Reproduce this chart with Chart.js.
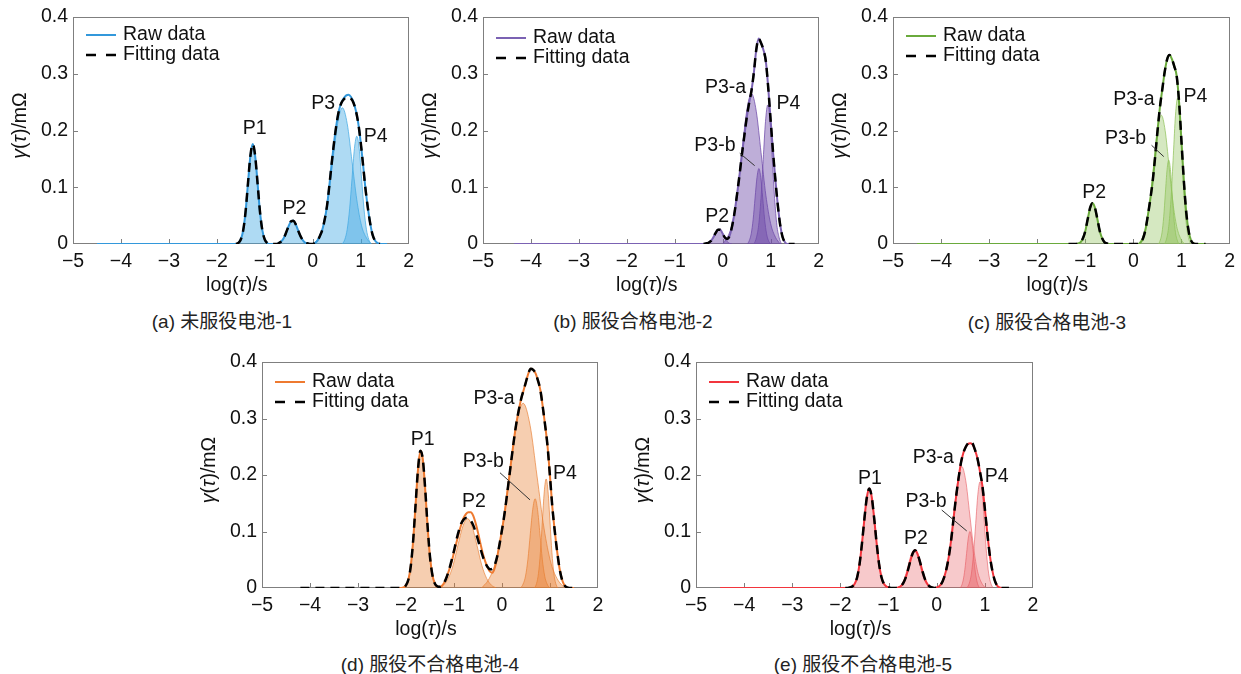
<!DOCTYPE html>
<html>
<head>
<meta charset="utf-8">
<title>DRT peaks</title>
<script src="https://cdn.jsdelivr.net/npm/chart.js@4.4.1/dist/chart.umd.min.js"></script>
<style>
  body { margin: 0; background: #fff; width: 1241px; height: 674px; position: relative; overflow: hidden;
         font-family: "Liberation Sans", "Noto Sans CJK SC", sans-serif; }
  canvas { position: absolute; }
  .cap { position: absolute; font-size: 19px; color: #222; transform: translate(-50%, -50%); white-space: nowrap; }
</style>
</head>
<body>
<canvas id="ca" width="420" height="300" style="left:0;top:0"></canvas>
<canvas id="cb" width="410" height="300" style="left:420px;top:0"></canvas>
<canvas id="cc" width="411" height="300" style="left:830px;top:0"></canvas>
<canvas id="cd" width="420" height="300" style="left:190px;top:345px"></canvas>
<canvas id="ce" width="420" height="300" style="left:630px;top:345px"></canvas>
<div class="cap" style="left:222px;top:319px">(a) 未服役电池-1</div>
<div class="cap" style="left:633px;top:319px">(b) 服役合格电池-2</div>
<div class="cap" style="left:1047px;top:320px">(c) 服役合格电池-3</div>
<div class="cap" style="left:430px;top:662px">(d) 服役不合格电池-4</div>
<div class="cap" style="left:863px;top:662px">(e) 服役不合格电池-5</div>
<script>
// ---- (a) 未服役电池-1 ----
const a_x = [-4.5, -1.6, -1.55, -1.5, -1.45, -1.4, -1.35, -1.3, -1.25, -1.2, -1.15, -1.1, -1.05, -1.0, -0.95,
  -0.9, -0.85, -0.8, -0.75, -0.7, -0.65, -0.6, -0.55, -0.5, -0.45, -0.4, -0.35, -0.3, -0.25, -0.2, -0.15, -0.1, -0.05,
  0, 0.05, 0.1, 0.15, 0.2, 0.25, 0.3, 0.35, 0.4, 0.45, 0.5, 0.55, 0.6, 0.65, 0.7, 0.75, 0.8, 0.85, 0.9, 0.95,
  1.0, 1.05, 1.1, 1.15, 1.2, 1.25, 1.3, 1.35, 1.4, 1.55];
const a_raw = [0, 0, 0.002, 0.008, 0.024, 0.057, 0.107, 0.155, 0.176, 0.155, 0.107, 0.057, 0.024, 0.008, 0.002,
  0, 0, 0, 0, 0.002, 0.005, 0.011, 0.021, 0.032, 0.040, 0.041, 0.034, 0.023, 0.013, 0.006, 0.002, 0.001, 0,
  0, 0.002, 0.006, 0.014, 0.025, 0.043, 0.068, 0.105, 0.145, 0.182, 0.213, 0.236, 0.249, 0.257, 0.262, 0.263, 0.259, 0.250, 0.235, 0.213,
  0.180, 0.140, 0.098, 0.064, 0.036, 0.016, 0.006, 0.002, 0, 0];
const a_fit = [null, 0, 0.002, 0.008, 0.024, 0.057, 0.107, 0.155, 0.176, 0.155, 0.107, 0.057, 0.024, 0.008, 0.002,
  0, 0, 0, 0, 0.002, 0.005, 0.011, 0.021, 0.032, 0.040, 0.041, 0.034, 0.023, 0.013, 0.006, 0.002, 0.001, 0,
  0, 0.002, 0.006, 0.014, 0.025, 0.043, 0.068, 0.105, 0.145, 0.182, 0.213, 0.236, 0.249, 0.255, 0.258, 0.258, 0.256, 0.249, 0.235, 0.213,
  0.180, 0.140, 0.098, 0.064, 0.036, 0.016, 0.006, 0.002, 0, null];
const a_p1_x = [-1.55, -1.5, -1.45, -1.4, -1.35, -1.3, -1.25, -1.2, -1.15, -1.1, -1.05, -1.0, -0.95];
const a_p1_y = [0, 0.008, 0.024, 0.057, 0.107, 0.155, 0.176, 0.155, 0.107, 0.057, 0.024, 0.008, 0];
const a_p2_x = [-0.75, -0.695, -0.64, -0.585, -0.53, -0.475, -0.42, -0.365, -0.31, -0.255, -0.2, -0.145, -0.09];
const a_p2_y = [0, 0.002, 0.006, 0.014, 0.025, 0.037, 0.042, 0.037, 0.025, 0.014, 0.006, 0.002, 0];
const a_p3_x = [0.02, 0.12, 0.22, 0.32, 0.42, 0.52, 0.62, 0.72, 0.82, 0.92, 1.02, 1.12, 1.22];
const a_p3_y = [0, 0.011, 0.032, 0.078, 0.146, 0.212, 0.24, 0.212, 0.146, 0.078, 0.032, 0.011, 0];
const a_p4_x = [0.62, 0.67, 0.72, 0.77, 0.82, 0.87, 0.92, 0.97, 1.02, 1.07, 1.12, 1.17, 1.22];
const a_p4_y = [0, 0.008, 0.026, 0.062, 0.115, 0.168, 0.19, 0.168, 0.115, 0.062, 0.026, 0.008, 0];
const a_lab = ['P1', 'P2', 'P3', 'P4'];
const a_lab_x = [-1.21, -0.383, 0.217, 1.315];
const a_lab_y = [0.203, 0.063, 0.248, 0.189];

// ---- (b) 服役合格电池-2 ----
const b_x = [-4.35, -0.4, -0.35, -0.3, -0.25, -0.2, -0.15, -0.1, -0.05, 0, 0.05, 0.1, 0.15, 0.2, 0.25, 0.3, 0.35, 0.4, 0.45,
  0.5, 0.55, 0.6, 0.65, 0.7, 0.75, 0.8, 0.85, 0.9, 0.95, 1.0, 1.05, 1.1, 1.15, 1.2, 1.25, 1.3, 1.35, 1.5];
const b_raw = [0, 0, 0.001, 0.002, 0.005, 0.011, 0.019, 0.025, 0.025, 0.018, 0.011, 0.009, 0.016, 0.033, 0.057, 0.088, 0.121, 0.157, 0.19,
  0.222, 0.248, 0.27, 0.302, 0.342, 0.362, 0.354, 0.342, 0.322, 0.275, 0.218, 0.162, 0.112, 0.068, 0.033, 0.012, 0.003, 0, 0];
const b_fit = [null, 0, 0.001, 0.002, 0.005, 0.011, 0.019, 0.025, 0.025, 0.018, 0.011, 0.009, 0.016, 0.033, 0.057, 0.088, 0.121, 0.157, 0.19,
  0.222, 0.248, 0.27, 0.302, 0.342, 0.362, 0.354, 0.342, 0.322, 0.275, 0.218, 0.162, 0.112, 0.068, 0.033, 0.012, 0.003, 0, 0];
const b_p2_x = [-0.35, -0.305, -0.26, -0.215, -0.17, -0.125, -0.08, -0.035, 0.01, 0.055, 0.1, 0.145, 0.19];
const b_p2_y = [0, 0.001, 0.004, 0.008, 0.016, 0.023, 0.026, 0.023, 0.016, 0.008, 0.004, 0.001, 0];
const b_p3a_x = [0, 0.1, 0.2, 0.3, 0.4, 0.5, 0.6, 0.7, 0.8, 0.9, 1.0, 1.1, 1.2];
const b_p3a_y = [0, 0.012, 0.036, 0.086, 0.161, 0.234, 0.265, 0.234, 0.161, 0.086, 0.036, 0.012, 0];
const b_p3b_x = [0.515, 0.555, 0.595, 0.635, 0.675, 0.715, 0.755, 0.795, 0.835, 0.875, 0.915, 0.955, 0.995];
const b_p3b_y = [0, 0.006, 0.018, 0.043, 0.081, 0.117, 0.133, 0.117, 0.081, 0.043, 0.018, 0.006, 0];
const b_p4_x = [0.655, 0.703, 0.75, 0.798, 0.845, 0.893, 0.94, 0.988, 1.035, 1.083, 1.13, 1.178, 1.225];
const b_p4_y = [0, 0.011, 0.033, 0.080, 0.149, 0.216, 0.245, 0.216, 0.149, 0.080, 0.033, 0.011, 0];
const b_lab = ['P2', 'P3-a', 'P3-b', 'P4'];
const b_lab_x = [-0.114, 0.058, -0.162, 1.37];
const b_lab_y = [0.048, 0.276, 0.174, 0.248];
const b_lead = [0.356, 0.16, 0.667, 0.138];

// ---- (c) 服役合格电池-3 ----
const c_x = [-4.5, -1.35, -1.2, -1.15, -1.1, -1.05, -1.0, -0.95, -0.9, -0.85, -0.8, -0.75, -0.7, -0.65, -0.6, -0.55, -0.5,
  0.1, 0.15, 0.2, 0.25, 0.3, 0.35, 0.4, 0.45, 0.5, 0.55, 0.6, 0.65, 0.7, 0.75, 0.8, 0.85, 0.9, 0.95, 1.0, 1.05, 1.1, 1.15, 1.2, 1.25, 1.3, 1.5];
const c_raw = [0, 0, 0, 0.001, 0.003, 0.010, 0.023, 0.044, 0.064, 0.072, 0.064, 0.044, 0.023, 0.010, 0.003, 0.001, 0,
  0, 0.003, 0.010, 0.025, 0.05, 0.078, 0.11, 0.152, 0.198, 0.24, 0.272, 0.303, 0.325, 0.333, 0.326, 0.313, 0.296, 0.25, 0.18, 0.11, 0.055, 0.022, 0.006, 0.001, 0, 0];
const c_fit = [null, 0, 0, 0.001, 0.003, 0.010, 0.023, 0.044, 0.064, 0.072, 0.064, 0.044, 0.023, 0.010, 0.003, 0.001, 0,
  0, 0.003, 0.010, 0.025, 0.05, 0.078, 0.11, 0.152, 0.198, 0.24, 0.272, 0.303, 0.325, 0.333, 0.326, 0.313, 0.296, 0.25, 0.18, 0.11, 0.055, 0.022, 0.006, 0.001, 0, 0];
const c_p2_x = [-1.15, -1.1, -1.05, -1.0, -0.95, -0.9, -0.85, -0.8, -0.75, -0.7, -0.65, -0.6, -0.55];
const c_p2_y = [0, 0.003, 0.010, 0.023, 0.044, 0.064, 0.072, 0.064, 0.044, 0.023, 0.010, 0.003, 0];
const c_p3a_x = [0.1, 0.18, 0.26, 0.34, 0.42, 0.5, 0.58, 0.66, 0.74, 0.82, 0.9, 0.98, 1.06];
const c_p3a_y = [0, 0.010, 0.031, 0.074, 0.138, 0.200, 0.227, 0.200, 0.138, 0.074, 0.031, 0.010, 0];
const c_p3b_x = [0.525, 0.56, 0.595, 0.63, 0.665, 0.7, 0.735, 0.77, 0.805, 0.84, 0.875, 0.91, 0.945];
const c_p3b_y = [0, 0.007, 0.020, 0.048, 0.090, 0.131, 0.148, 0.131, 0.090, 0.048, 0.020, 0.007, 0];
const c_p4_x = [0.65, 0.695, 0.74, 0.785, 0.83, 0.875, 0.92, 0.965, 1.01, 1.055, 1.1, 1.145, 1.19];
const c_p4_y = [0, 0.011, 0.035, 0.084, 0.156, 0.227, 0.257, 0.227, 0.156, 0.084, 0.035, 0.011, 0];
const c_lab = ['P2', 'P3-a', 'P3-b', 'P4'];
const c_lab_x = [-0.818, 0.010, -0.162, 1.288];
const c_lab_y = [0.090, 0.254, 0.186, 0.26];
const c_lead = [0.377, 0.174, 0.631, 0.154];

// ---- (d) 服役不合格电池-4 ----
const d_x = [-4.2, -2.15, -2.1, -2.05, -2.0, -1.95, -1.9, -1.85, -1.8, -1.75, -1.7, -1.65, -1.6, -1.55, -1.5, -1.45, -1.4, -1.35,
  -1.3, -1.25, -1.2, -1.15, -1.1, -1.05, -1.0, -0.95, -0.9, -0.85, -0.8, -0.75, -0.7, -0.65, -0.6, -0.55, -0.5, -0.45, -0.4,
  -0.35, -0.3, -0.25, -0.2, -0.15, -0.1, -0.05, 0, 0.05, 0.1, 0.15, 0.2, 0.25, 0.3, 0.35, 0.4, 0.45, 0.5, 0.55, 0.6, 0.65,
  0.7, 0.75, 0.8, 0.85, 0.9, 0.95, 1.0, 1.05, 1.1, 1.15, 1.2, 1.25, 1.3, 1.35, 1.4, 1.5];
const d_raw = [null, 0, 0, 0.001, 0.005, 0.015, 0.039, 0.085, 0.148, 0.21, 0.243, 0.228, 0.175, 0.109, 0.055, 0.023, 0.008, 0.003,
  0.002, 0.004, 0.010, 0.020, 0.032, 0.046, 0.063, 0.080, 0.097, 0.112, 0.124, 0.131, 0.134, 0.134, 0.128, 0.115, 0.098, 0.079, 0.061,
  0.047, 0.036, 0.029, 0.027, 0.036, 0.055, 0.078, 0.103, 0.13, 0.162, 0.196, 0.23, 0.263, 0.292, 0.315, 0.335, 0.35, 0.365, 0.38, 0.388, 0.386,
  0.38, 0.367, 0.35, 0.32, 0.287, 0.25, 0.197, 0.142, 0.1, 0.064, 0.034, 0.015, 0.005, 0.001, 0, 0];
const d_fit = [0, 0, 0, 0.001, 0.005, 0.015, 0.039, 0.085, 0.148, 0.21, 0.243, 0.228, 0.175, 0.109, 0.055, 0.023, 0.008, 0.003,
  0.002, 0.004, 0.010, 0.020, 0.033, 0.049, 0.066, 0.085, 0.101, 0.114, 0.121, 0.124, 0.123, 0.119, 0.111, 0.099, 0.085, 0.07, 0.056,
  0.045, 0.037, 0.033, 0.034, 0.041, 0.056, 0.078, 0.103, 0.13, 0.162, 0.196, 0.23, 0.263, 0.292, 0.315, 0.335, 0.35, 0.365, 0.38, 0.388, 0.386,
  0.38, 0.367, 0.35, 0.32, 0.287, 0.25, 0.197, 0.142, 0.1, 0.064, 0.034, 0.015, 0.005, 0.001, 0, 0];
const d_p1_x = [-2.02, -1.965, -1.91, -1.855, -1.8, -1.745, -1.69, -1.635, -1.58, -1.525, -1.47, -1.415, -1.36];
const d_p1_y = [0, 0.011, 0.033, 0.079, 0.148, 0.215, 0.244, 0.215, 0.148, 0.079, 0.033, 0.011, 0];
const d_p2_x = [-1.32, -1.22, -1.12, -1.02, -0.92, -0.82, -0.72, -0.62, -0.52, -0.42, -0.32, -0.22, -0.12];
const d_p2_y = [0, 0.005, 0.017, 0.040, 0.075, 0.108, 0.123, 0.108, 0.075, 0.040, 0.017, 0.005, 0];
const d_p3a_x = [-0.43, -0.285, -0.14, 0.005, 0.15, 0.295, 0.44, 0.585, 0.73, 0.875, 1.02, 1.165, 1.31];
const d_p3a_y = [0, 0.014, 0.044, 0.106, 0.198, 0.288, 0.327, 0.288, 0.198, 0.106, 0.044, 0.014, 0];
const d_p3b_x = [0.39, 0.44, 0.49, 0.54, 0.59, 0.64, 0.69, 0.74, 0.79, 0.84, 0.89, 0.94, 0.99];
const d_p3b_y = [0, 0.007, 0.021, 0.051, 0.096, 0.139, 0.158, 0.139, 0.096, 0.051, 0.021, 0.007, 0];
const d_p4_x = [0.68, 0.72, 0.76, 0.80, 0.84, 0.88, 0.92, 0.96, 1.00, 1.04, 1.08, 1.12, 1.16];
const d_p4_y = [0, 0.008, 0.026, 0.063, 0.117, 0.170, 0.193, 0.170, 0.117, 0.063, 0.026, 0.008, 0];
const d_lab = ['P1', 'P2', 'P3-a', 'P3-b', 'P4'];
const d_lab_x = [-1.652, -0.583, -0.167, -0.39, 1.3125];
const d_lab_y = [0.263, 0.152, 0.335, 0.224, 0.202];
const d_lead = [-0.042, 0.204, 0.583, 0.156];

// ---- (e) 服役不合格电池-5 ----
const e_x = [-4.5, -1.9, -1.85, -1.8, -1.75, -1.7, -1.65, -1.6, -1.55, -1.5, -1.45, -1.4, -1.35, -1.3, -1.25, -1.2, -1.15, -1.1,
  -1.05, -1.0, -0.95, -0.9, -0.85, -0.8, -0.75, -0.7, -0.65, -0.6, -0.55, -0.5, -0.45, -0.4, -0.35, -0.3, -0.25, -0.2, -0.15,
  -0.1, -0.05, 0, 0.05, 0.1, 0.15, 0.2, 0.25, 0.3, 0.35, 0.4, 0.45, 0.5, 0.55, 0.6, 0.65, 0.7, 0.75, 0.8, 0.85, 0.9, 0.95,
  1.0, 1.05, 1.1, 1.15, 1.2, 1.25, 1.3, 1.35, 1.5];
const e_raw = [0, 0, 0, 0.001, 0.003, 0.008, 0.020, 0.044, 0.081, 0.124, 0.161, 0.176, 0.161, 0.124, 0.081, 0.044, 0.020, 0.008,
  0.003, 0.001, 0, 0, 0, 0.001, 0.003, 0.008, 0.017, 0.031, 0.047, 0.061, 0.067, 0.061, 0.047, 0.031, 0.017, 0.008, 0.003,
  0.001, 0, 0.001, 0.003, 0.008, 0.018, 0.033, 0.055, 0.085, 0.123, 0.16, 0.192, 0.22, 0.238, 0.249, 0.255, 0.256, 0.253, 0.243, 0.228, 0.205, 0.18,
  0.14, 0.098, 0.06, 0.033, 0.015, 0.005, 0.001, 0, 0];
const e_fit = [null, 0, 0, 0.001, 0.003, 0.008, 0.020, 0.044, 0.081, 0.124, 0.161, 0.176, 0.161, 0.124, 0.081, 0.044, 0.020, 0.008,
  0.003, 0.001, 0, 0, 0, 0.001, 0.003, 0.008, 0.017, 0.031, 0.047, 0.061, 0.067, 0.061, 0.047, 0.031, 0.017, 0.008, 0.003,
  0.001, 0, 0.001, 0.003, 0.008, 0.018, 0.033, 0.055, 0.085, 0.123, 0.16, 0.192, 0.22, 0.238, 0.249, 0.256, 0.259, 0.255, 0.243, 0.228, 0.205, 0.18,
  0.14, 0.098, 0.06, 0.033, 0.015, 0.005, 0.001, 0, 0];
const e_p1_x = [-1.76, -1.7, -1.64, -1.58, -1.52, -1.46, -1.4, -1.34, -1.28, -1.22, -1.16, -1.1, -1.04];
const e_p1_y = [0, 0.008, 0.024, 0.057, 0.107, 0.155, 0.176, 0.155, 0.107, 0.057, 0.024, 0.008, 0];
const e_p2_x = [-0.83, -0.77, -0.71, -0.65, -0.59, -0.53, -0.47, -0.41, -0.35, -0.29, -0.23, -0.17, -0.11];
const e_p2_y = [0, 0.003, 0.009, 0.022, 0.041, 0.059, 0.067, 0.059, 0.041, 0.022, 0.009, 0.003, 0];
const e_p3a_x = [0.025, 0.108, 0.19, 0.273, 0.355, 0.438, 0.52, 0.603, 0.685, 0.768, 0.85, 0.933, 1.015];
const e_p3a_y = [0, 0.009, 0.029, 0.070, 0.131, 0.190, 0.215, 0.190, 0.131, 0.070, 0.029, 0.009, 0];
const e_p3b_x = [0.48, 0.515, 0.55, 0.585, 0.62, 0.655, 0.69, 0.725, 0.76, 0.795, 0.83, 0.865, 0.9];
const e_p3b_y = [0, 0.004, 0.014, 0.033, 0.061, 0.088, 0.10, 0.088, 0.061, 0.033, 0.014, 0.004, 0];
const e_p4_x = [0.63, 0.675, 0.72, 0.765, 0.81, 0.855, 0.9, 0.945, 0.99, 1.035, 1.08, 1.125, 1.17];
const e_p4_y = [0, 0.008, 0.025, 0.061, 0.114, 0.166, 0.188, 0.166, 0.114, 0.061, 0.025, 0.008, 0];
const e_lab = ['P1', 'P2', 'P3-a', 'P3-b', 'P4'];
const e_lab_x = [-1.386, -0.43, -0.07, -0.222, 1.246];
const e_lab_y = [0.194, 0.088, 0.23, 0.153, 0.198];
const e_lead = [0.104, 0.138, 0.623, 0.101];

const FONT = '19.5px "Liberation Sans", Arial, sans-serif';
Chart.defaults.font.family = '"Liberation Sans", Arial, sans-serif';

const panels = [
  { id: 'a', yw: 73, padR: 9, xh: 56, legY: 18, line: '#3398db', fill: 'rgba(62,168,226,0.42)', edge: 'rgba(62,168,226,0.7)',
    x: a_x, raw: a_raw, fit: a_fit, peaks: [[a_p1_x, a_p1_y], [a_p2_x, a_p2_y], [a_p3_x, a_p3_y], [a_p4_x, a_p4_y]],
    lab: a_lab, lx: a_lab_x, ly: a_lab_y, lead: null },
  { id: 'b', yw: 63, padR: 9, xh: 56, legY: 21, line: '#7b62b3', fill: 'rgba(111,75,169,0.45)', edge: 'rgba(111,75,169,0.75)',
    x: b_x, raw: b_raw, fit: b_fit, peaks: [[b_p2_x, b_p2_y], [b_p3a_x, b_p3a_y], [b_p3b_x, b_p3b_y], [b_p4_x, b_p4_y]],
    lab: b_lab, lx: b_lab_x, ly: b_lab_y, lead: b_lead },
  { id: 'c', yw: 63, padR: 11, xh: 56, legY: 19, line: '#6aaa3c', fill: 'rgba(145,195,92,0.38)', edge: 'rgba(145,195,92,0.75)',
    x: c_x, raw: c_raw, fit: c_fit, peaks: [[c_p2_x, c_p2_y], [c_p3a_x, c_p3a_y], [c_p3b_x, c_p3b_y], [c_p4_x, c_p4_y]],
    lab: c_lab, lx: c_lab_x, ly: c_lab_y, lead: c_lead },
  { id: 'd', yw: 72, padR: 12, xh: 57, legY: 20, line: '#ee7a30', fill: 'rgba(232,125,47,0.38)', edge: 'rgba(232,125,47,0.65)',
    x: d_x, raw: d_raw, fit: d_fit, peaks: [[d_p1_x, d_p1_y], [d_p2_x, d_p2_y], [d_p3a_x, d_p3a_y], [d_p3b_x, d_p3b_y], [d_p4_x, d_p4_y]],
    lab: d_lab, lx: d_lab_x, ly: d_lab_y, lead: d_lead },
  { id: 'e', yw: 66, padR: 17, xh: 57, legY: 20, line: '#f2353d', fill: 'rgba(232,92,98,0.33)', edge: 'rgba(232,92,98,0.6)',
    x: e_x, raw: e_raw, fit: e_fit, peaks: [[e_p1_x, e_p1_y], [e_p2_x, e_p2_y], [e_p3a_x, e_p3a_y], [e_p3b_x, e_p3b_y], [e_p4_x, e_p4_y]],
    lab: e_lab, lx: e_lab_x, ly: e_lab_y, lead: e_lead }
];

function pts(xs, ys) {
  return xs.map((x, i) => ({ x: x, y: ys[i] }));
}

// text with some italic pieces, centred on (cx, cy)
function rich(ctx, parts, cx, cy) {
  let w = 0;
  parts.forEach(p => { ctx.font = (p[1] ? 'italic ' : '') + FONT; w += ctx.measureText(p[0]).width; });
  let x = cx - w / 2;
  ctx.textAlign = 'left';
  ctx.textBaseline = 'middle';
  parts.forEach(p => {
    ctx.font = (p[1] ? 'italic ' : '') + FONT;
    ctx.fillText(p[0], x, cy);
    x += ctx.measureText(p[0]).width;
  });
}

function decor(p) {
  return {
    id: 'decor_' + p.id,
    beforeDatasetsDraw(chart) {
      const { ctx, chartArea: a, scales: { x, y } } = chart;
      ctx.save();
      ctx.strokeStyle = '#7f7f7f';
      ctx.lineWidth = 1;
      ctx.strokeRect(Math.round(a.left) + 0.5, Math.round(a.top) + 0.5, Math.round(a.width) - 1, Math.round(a.height) - 1);
      ctx.beginPath();
      [-4, -3, -2, -1, 0, 1].forEach(v => {
        const px = Math.round(x.getPixelForValue(v)) + 0.5;
        ctx.moveTo(px, a.bottom);
        ctx.lineTo(px, a.bottom - 5);
      });
      [0.1, 0.2, 0.3].forEach(v => {
        const py = Math.round(y.getPixelForValue(v)) + 0.5;
        ctx.moveTo(a.left, py);
        ctx.lineTo(a.left + 5, py);
      });
      ctx.stroke();
      ctx.restore();
    },
    afterDatasetsDraw(chart) {
      const { ctx, chartArea: a, scales: { x, y } } = chart;
      ctx.save();
      ctx.fillStyle = '#111';
      // axis titles
      rich(ctx, [['log(', 0], ['τ', 1], [')/s', 0]], (a.left + a.right) / 2 - 4, a.bottom + 42);
      ctx.save();
      ctx.translate(a.left - 52, (a.top + a.bottom) / 2 - 5);
      ctx.rotate(-Math.PI / 2);
      rich(ctx, [['γ', 1], ['(', 0], ['τ', 1], [')/mΩ', 0]], 0, 0);
      ctx.restore();

      // legend
      const r1 = a.top + p.legY, r2 = r1 + 20;
      ctx.lineWidth = 2;
      ctx.strokeStyle = p.line;
      ctx.beginPath();
      ctx.moveTo(a.left + 13, r1);
      ctx.lineTo(a.left + 43, r1);
      ctx.stroke();
      ctx.strokeStyle = '#000';
      ctx.lineWidth = 2.5;
      ctx.setLineDash([10, 10]);
      ctx.beginPath();
      ctx.moveTo(a.left + 13, r2);
      ctx.lineTo(a.left + 43, r2);
      ctx.stroke();
      ctx.setLineDash([]);
      ctx.font = FONT;
      ctx.textAlign = 'left';
      ctx.textBaseline = 'middle';
      ctx.fillText('Raw data', a.left + 50, r1);
      ctx.fillText('Fitting data', a.left + 50, r2);

      // peak labels
      ctx.textAlign = 'center';
      p.lab.forEach((t, i) => {
        ctx.fillText(t, x.getPixelForValue(p.lx[i]), y.getPixelForValue(p.ly[i]));
      });
      if (p.lead) {
        ctx.strokeStyle = '#333';
        ctx.lineWidth = 1;
        ctx.beginPath();
        ctx.moveTo(x.getPixelForValue(p.lead[0]), y.getPixelForValue(p.lead[1]));
        ctx.lineTo(x.getPixelForValue(p.lead[2]), y.getPixelForValue(p.lead[3]));
        ctx.stroke();
      }
      ctx.restore();
    }
  };
}

function build(p) {
  const ds = p.peaks.map(pk => ({
    data: pts(pk[0], pk[1]),
    borderColor: p.edge,
    borderWidth: 1,
    backgroundColor: p.fill,
    fill: 'origin',
    pointRadius: 0,
    cubicInterpolationMode: 'monotone',
    order: 3
  }));
  ds.push({
    data: pts(p.x, p.raw),
    borderColor: p.line,
    borderWidth: 2,
    fill: false,
    pointRadius: 0,
    cubicInterpolationMode: 'monotone',
    order: 2
  });
  ds.push({
    data: pts(p.x, p.fit),
    borderColor: '#000',
    borderWidth: 2.5,
    borderDash: [9, 6],
    fill: false,
    pointRadius: 0,
    cubicInterpolationMode: 'monotone',
    order: 1
  });

  new Chart(document.getElementById('c' + p.id), {
    type: 'line',
    data: { datasets: ds },
    options: {
      responsive: false,
      animation: false,
      events: [],
      layout: { padding: { left: 0, top: 17, right: p.padR, bottom: 0 } },
      plugins: { legend: { display: false }, tooltip: { enabled: false } },
      scales: {
        x: {
          type: 'linear', min: -5, max: 2,
          grid: { display: false, drawTicks: false },
          border: { display: false },
          ticks: {
            stepSize: 1, color: '#111', padding: 6, maxRotation: 0, font: { size: 19.5 },
            callback: v => (v < 0 ? '\u2212' + Math.abs(v) : '' + v)
          },
          afterFit: s => { s.height = p.xh; }
        },
        y: {
          type: 'linear', min: 0, max: 0.4,
          grid: { display: false, drawTicks: false },
          border: { display: false },
          ticks: {
            stepSize: 0.1, color: '#111', padding: 5, font: { size: 19.5 },
            callback: v => (Math.abs(v) < 1e-9 ? '0' : v.toFixed(1))
          },
          afterFit: s => { s.width = p.yw; }
        }
      }
    },
    plugins: [decor(p)]
  });
}

panels.forEach(build);
</script>
</body>
</html>
